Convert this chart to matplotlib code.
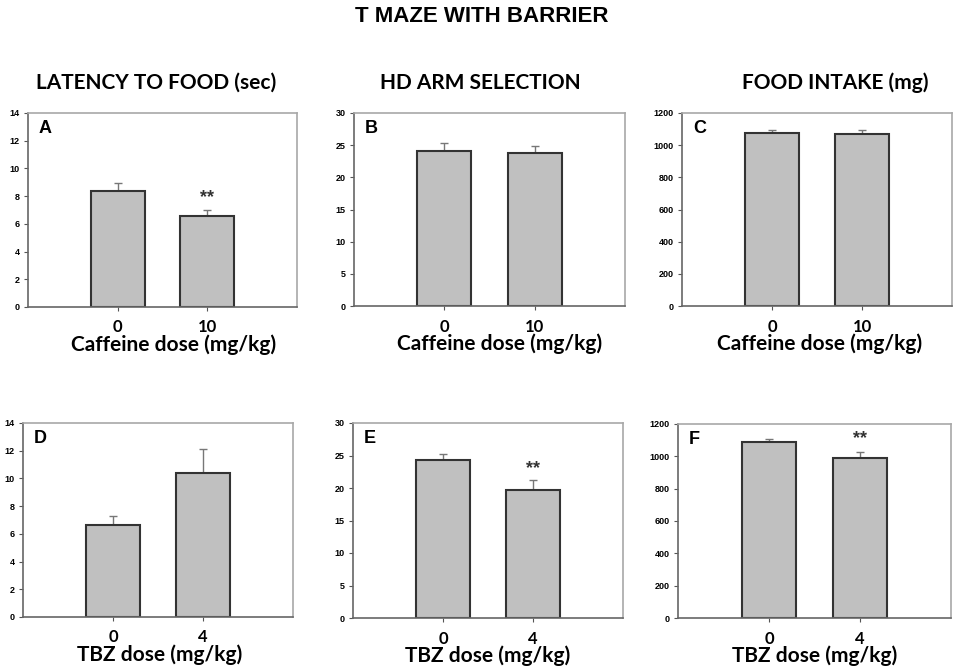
import matplotlib
matplotlib.use("Agg")
import matplotlib.pyplot as plt

# ---- data ----
doses_caf = ["0", "10"]
doses_tbz = ["0", "4"]

latency_caf = [8.36, 6.55]
latency_caf_err = [0.61, 0.43]
hd_caf = [24.15, 23.8]
hd_caf_err = [1.15, 1.0]
food_caf = [1078, 1070]
food_caf_err = [17, 25]

latency_tbz = [6.63, 10.39]
latency_tbz_err = [0.69, 1.76]
hd_tbz = [24.3, 19.7]
hd_tbz_err = [0.9, 1.5]
food_tbz = [1088, 988]
food_tbz_err = [17, 37]

col_titles = ["LATENCY TO FOOD (sec)", "HD ARM SELECTION", "FOOD INTAKE (mg)"]
xlabels = ["Caffeine dose (mg/kg)", "TBZ dose (mg/kg)"]
letters = [["A", "B", "C"], ["D", "E", "F"]]
ylims = [14, 30, 1200]
ysteps = [2, 5, 200]
sig = [[[False, True], [False, False], [False, False]],
       [[False, False], [False, True], [False, True]]]
sig_y = [[[None, 7.9], [None, None], [None, None]],
         [[None, None], [None, 23.0], [None, 1110]]]

values = [[latency_caf, hd_caf, food_caf], [latency_tbz, hd_tbz, food_tbz]]
errors = [[latency_caf_err, hd_caf_err, food_caf_err],
          [latency_tbz_err, hd_tbz_err, food_tbz_err]]
doses = [doses_caf, doses_tbz]

W, H = 957, 671
fig = plt.figure(figsize=(W / 100, H / 100), dpi=100)

# axes boxes in pixels: (left, top, right, bottom)
boxes = [[(28, 113, 297, 307), (354, 113, 625, 306), (682, 113, 952, 306)],
         [(23, 423, 293, 617), (353, 423, 623, 618), (678, 424, 951, 618)]]
xlabel_center = [[174, 500, 820], [160, 488, 815]]

title_font = "Lato"
num_font = "Liberation Sans"

fig.text(482 / W, 1 - 17 / H, "T MAZE WITH BARRIER", ha="center", va="center",
         fontsize=16, fontweight="bold", family=num_font)
col_x = [156, 480, 835]
for j, t in enumerate(col_titles):
    fig.text(col_x[j] / W, 1 - 83 / H, t, ha="center", va="center",
             fontsize=15, fontweight="bold", family=title_font)

for i in range(2):
    for j in range(3):
        l, t, r, b = boxes[i][j]
        ax = fig.add_axes([l / W, 1 - b / H, (r - l) / W, (b - t) / H])
        x = [1, 2]
        ax.bar(x, values[i][j], width=0.6, color="#c0c0c0",
               edgecolor="#333333", linewidth=1.5, zorder=2)
        ax.errorbar(x, values[i][j], yerr=[[0, 0], errors[i][j]], fmt="none",
                    ecolor="#777777", elinewidth=1, capsize=3, capthick=1, zorder=1)
        ax.set_xlim(0, 3)
        ax.set_ylim(0, ylims[j])
        ax.set_yticks(range(0, ylims[j] + 1, ysteps[j]))
        ax.set_xticks(x)
        ax.set_xticklabels(doses[i], fontsize=12, fontweight="bold", family=title_font)
        for lab in ax.get_yticklabels():
            lab.set_fontsize(6.5)
            lab.set_fontweight("bold")
            lab.set_family(num_font)
        ax.tick_params(axis="y", length=3, width=0.8, color="#555555", pad=3)
        ax.tick_params(axis="x", length=3, width=0.8, color="#555555", pad=6)
        for s in ["top", "right"]:
            ax.spines[s].set_color("#a8a8a8")
            ax.spines[s].set_linewidth(1.2)
        for s in ["left", "bottom"]:
            ax.spines[s].set_color("#666666")
            ax.spines[s].set_linewidth(1.2)
        ax.set_xlabel(xlabels[i], fontsize=15, fontweight="bold", family=title_font)
        ax.xaxis.set_label_coords((xlabel_center[i][j] - l) / (r - l), -0.195)
        ax.xaxis.label.set_va("center")
        ax.text(0.04, 0.92, letters[i][j], transform=ax.transAxes, ha="left",
                va="center", fontsize=13, fontweight="bold", family=num_font)
        for k in range(2):
            if sig[i][j][k]:
                ax.text(x[k], sig_y[i][j][k], "**", ha="center", va="center",
                        fontsize=13, fontweight="bold", family=num_font, color="#333333")

fig.savefig("out.png", dpi=100, facecolor="white")
